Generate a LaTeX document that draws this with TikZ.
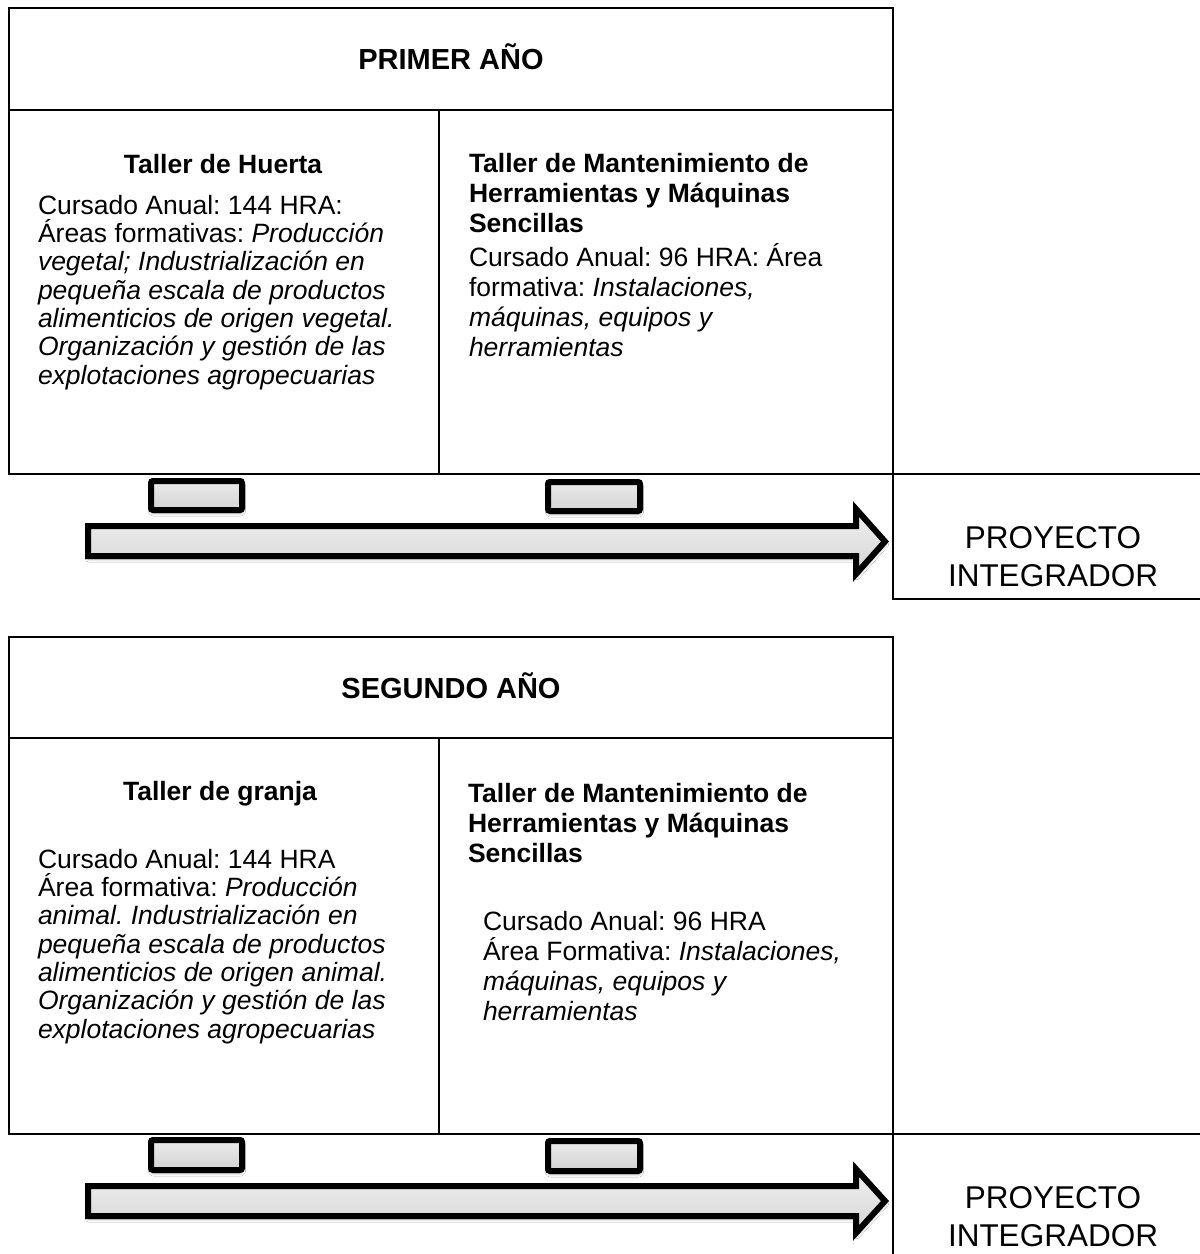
\documentclass[tikz,border=0pt]{standalone}
\usepackage{fontspec}
\setmainfont{Liberation Sans}
\usetikzlibrary{shadows,shadows.blur}
\frenchspacing
\newcommand\ftitle{\fontsize{29pt}{34pt}\selectfont\bfseries}
\newcommand\fhead{\fontsize{26.5pt}{30pt}\selectfont\bfseries}
\newcommand\fbodyA{\fontsize{26.5pt}{28.3pt}\selectfont}
\newcommand\fbodyB{\fontsize{26.5pt}{30pt}\selectfont}
\newcommand\fproj{\fontsize{31.5pt}{38pt}\selectfont}
\tikzset{
  tbl/.style={line width=2pt, draw=black},
  tab/.style={line width=6pt, draw=black, rounded corners=2pt,
    top color=gray!15, bottom color=gray!35,
    blur shadow={shadow xshift=0.5pt, shadow yshift=-3pt, shadow blur radius=3pt, shadow opacity=35}},
  bigarrow/.style={line width=6pt, draw=black, line join=miter,
    top color=gray!12, bottom color=gray!32,
    blur shadow={shadow xshift=0.5pt, shadow yshift=-3pt, shadow blur radius=3pt, shadow opacity=35}},
  txt/.style={inner sep=0pt, outer sep=0pt, text=black}
}
\begin{document}
\begin{tikzpicture}[x=1pt,y=-1pt]
\useasboundingbox (0,0) rectangle (1200,1254);
\fill[white] (0,0) rectangle (1200,1254);

% ===== FIRST YEAR =====
\draw[tbl] (9,8) rectangle (893,474);
\draw[tbl] (9,110) -- (893,110);
\draw[tbl] (439,110) -- (439,474);
\draw[tbl] (893,474) -- (1200,474);
\draw[tbl] (893,474) -- (893,599) -- (1200,599);

% multi-line nodes: base anchor = baseline of the LAST line
\node[txt, anchor=base, font=\ftitle] (t1) at (451,69.5) {PRIMER AÑO};
\node[txt, anchor=base, font=\fhead] (h1l) at (223,173) {Taller de Huerta};
\node[txt, anchor=base west, align=left, font=\fbodyA] (b1l) at (38,384)
  {Cursado Anual: 144 HRA:\\
   Áreas formativas: \textit{Producción}\\
   \textit{vegetal; Industrialización en}\\
   \textit{pequeña escala de productos}\\
   \textit{alimenticios de origen vegetal.}\\
   \textit{Organización y gestión de las}\\
   \textit{explotaciones agropecuarias}};
\node[txt, anchor=base west, align=left, font=\fhead] (h1r) at (469,232)
  {Taller de Mantenimiento de\\Herramientas y Máquinas\\Sencillas};
\node[txt, anchor=base west, align=left, font=\fbodyB] (b1r) at (469,356)
  {Cursado Anual: 96 HRA: Área\\
   formativa: \textit{Instalaciones,}\\
   \textit{máquinas, equipos y}\\
   \textit{herramientas}};

\draw[tab] (151,481) rectangle (242,510);
\draw[tab] (548,482) rectangle (640,511);
\draw[bigarrow] (88,526) -- (856,526) -- (856,509) -- (885,541.5) -- (856,574) -- (856,556) -- (88,556) -- cycle;

\node[txt, anchor=base, align=center, font=\fproj] (p1) at (1053,586) {PROYECTO\\INTEGRADOR};

% ===== SECOND YEAR =====
\draw[tbl] (9,637) rectangle (893,1134);
\draw[tbl] (9,738) -- (893,738);
\draw[tbl] (439,738) -- (439,1134);
\draw[tbl] (893,1134) -- (1200,1134);
\draw[tbl] (893,1134) -- (893,1256);

\node[txt, anchor=base, font=\ftitle] (t2) at (451,698) {SEGUNDO AÑO};
\node[txt, anchor=base, font=\fhead] (h2l) at (220,800) {Taller de granja};
\node[txt, anchor=base west, align=left, font=\fbodyA] (b2l) at (38,1038)
  {Cursado Anual: 144 HRA\\
   Área formativa: \textit{Producción}\\
   \textit{animal. Industrialización en}\\
   \textit{pequeña escala de productos}\\
   \textit{alimenticios de origen animal.}\\
   \textit{Organización y gestión de las}\\
   \textit{explotaciones agropecuarias}};
\node[txt, anchor=base west, align=left, font=\fhead] (h2r) at (468,862)
  {Taller de Mantenimiento de\\Herramientas y Máquinas\\Sencillas};
\node[txt, anchor=base west, align=left, font=\fbodyB] (b2r) at (483,1020)
  {Cursado Anual: 96 HRA\\
   Área Formativa: \textit{Instalaciones,}\\
   \textit{máquinas, equipos y}\\
   \textit{herramientas}};

\draw[tab] (151,1140) rectangle (242,1170);
\draw[tab] (548,1141) rectangle (640,1171);
\draw[bigarrow] (88,1186) -- (856,1186) -- (856,1169) -- (885,1201) -- (856,1233) -- (856,1216) -- (88,1216) -- cycle;

\node[txt, anchor=base, align=center, font=\fproj] (p2) at (1053,1246) {PROYECTO\\INTEGRADOR};
\end{tikzpicture}
\end{document}
